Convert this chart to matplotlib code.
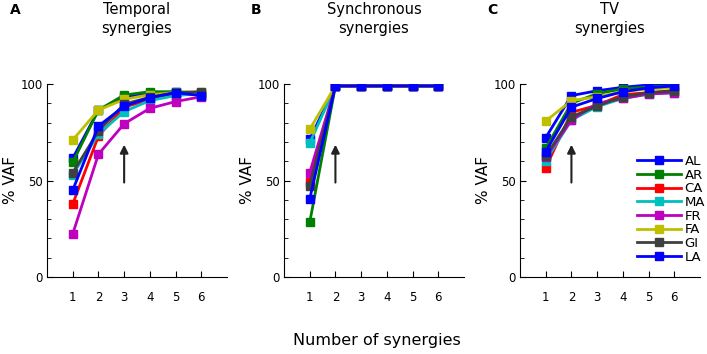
import matplotlib.pyplot as plt

# x values and subjects
n_syn = [1, 2, 3, 4, 5, 6]
subjects = ["AL", "AR", "CA", "MA", "FR", "FA", "GI", "LA"]
colors = ["#0000ff", "#008000", "#ff0000", "#00bfbf", "#bf00bf", "#bfbf00", "#404040", "#0000ff"]

# % VAF, one list per subject
temporal = {
    "AL": [61.5, 86.5, 93.4, 94.8, 96.0, 94.0],
    "AR": [59.4, 86.5, 94.3, 96.0, 96.0, 95.5],
    "CA": [37.8, 73.0, 88.0, 92.0, 94.5, 95.0],
    "MA": [53.0, 74.0, 85.7, 91.4, 94.0, 95.0],
    "FR": [22.3, 63.6, 79.4, 87.4, 90.9, 93.4],
    "FA": [71.0, 86.5, 92.0, 94.5, 95.5, 96.0],
    "GI": [54.0, 75.6, 89.6, 93.1, 95.5, 96.0],
    "LA": [45.0, 78.2, 88.5, 93.0, 95.5, 94.0],
}
synchronous = {
    "AL": [71.3, 99, 99, 99, 99, 99],
    "AR": [28.3, 99, 99, 99, 99, 99],
    "CA": [49.4, 99, 99, 99, 99, 99],
    "MA": [69.3, 99, 99, 99, 99, 99],
    "FR": [54.0, 99, 99, 99, 99, 99],
    "FA": [76.5, 99, 99, 99, 99, 99],
    "GI": [47.3, 99, 99, 99, 99, 99],
    "LA": [40.4, 99, 99, 99, 99, 99],
}
tv = {
    "AL": [72.2, 94.0, 96.5, 98.3, 99.5, 100.0],
    "AR": [66.7, 90.0, 95.0, 97.5, 98.5, 99.0],
    "CA": [56.6, 85.3, 89.0, 94.5, 95.5, 96.5],
    "MA": [60.3, 81.3, 88.3, 92.5, 94.8, 95.5],
    "FR": [62.0, 81.3, 90.0, 92.5, 94.8, 95.5],
    "FA": [80.8, 91.4, 93.4, 96.0, 97.5, 98.0],
    "GI": [62.7, 83.0, 88.6, 93.4, 95.5, 96.5],
    "LA": [65.0, 88.0, 92.5, 96.0, 98.0, 99.0],
}
titles = ["Temporal\nsynergies", "Synchronous\nsynergies", "TV\nsynergies"]
panel_labels = ["A", "B", "C"]
arrow_x = [3, 2, 2]

fig = plt.figure(figsize=(7.07, 3.54), dpi=100)
lefts = [47 / 707, 284 / 707, 520 / 707]
bottom = 1 - 277 / 354
height = (277 - 84) / 354
width = 180 / 707

for i, data in enumerate([temporal, synchronous, tv]):
    ax = fig.add_axes([lefts[i], bottom, width, height])
    for s, c in zip(subjects, colors):
        ax.plot(n_syn, data[s], color=c, lw=2, marker="s", markersize=5.5, label=s)
    ax.annotate("", xy=(arrow_x[i], 70), xytext=(arrow_x[i], 47.5),
                arrowprops=dict(arrowstyle="-|>", color="#222222", lw=1.5, mutation_scale=12))
    ax.set_xlim(0, 7)
    ax.set_ylim(0, 100)
    ax.set_xticks(n_syn)
    ax.set_yticks([0, 50, 100])
    ax.set_yticks(range(0, 101, 10), minor=True)
    ax.tick_params(direction="in", labelsize=8.5, length=4)
    ax.tick_params(axis="x", pad=10)
    ax.tick_params(axis="y", pad=3)
    ax.tick_params(which="minor", direction="in", length=3)
    ax.spines["top"].set_visible(False)
    ax.spines["right"].set_visible(False)
    ax.set_ylabel("% VAF", fontsize=11, labelpad=2)
    ax.set_title(titles[i], fontsize=10.5, pad=37, linespacing=1.3)
    fig.text(lefts[i] - (37 if i == 0 else 33) / 707, 1 - 10 / 354, panel_labels[i],
             fontsize=10, fontweight="bold", va="center", ha="left")
    if i == 2:
        ax.legend(loc="upper left", bbox_to_anchor=((637 - 520) / 180, (277 - 155) / 193),
                  frameon=False, fontsize=9.5, handlelength=3.3, handletextpad=0.3,
                  labelspacing=0.05, borderpad=0, borderaxespad=0, markerscale=1.1)

fig.text(377 / 707, 1 - 340 / 354, "Number of synergies", fontsize=11.5, ha="center", va="center")

fig.savefig("out.png", dpi=100)
